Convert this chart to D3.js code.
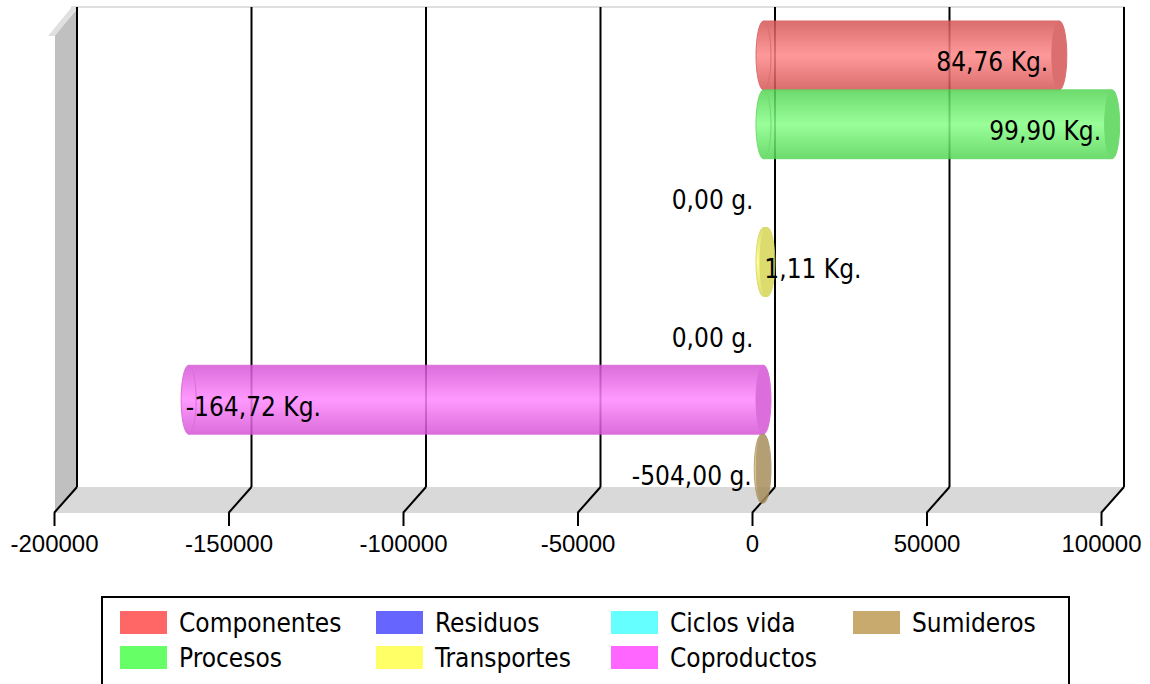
<!DOCTYPE html>
<html>
<head>
<meta charset="utf-8">
<script src="https://cdn.jsdelivr.net/npm/d3@7"></script>
<style>
  html, body { margin: 0; padding: 0; background: #fff; }
  svg { display: block; }
</style>
</head>
<body>
<svg id="chart" width="1150" height="684"></svg>
<script>
// ---- data ----
const series = ["Componentes", "Procesos", "Residuos", "Transportes", "Ciclos vida", "Coproductos", "Sumideros"];
const values = [84760, 99900, 0, 1110, 0, -164720, -504]; // grams
const valueLabels = ["84,76 Kg.", "99,90 Kg.", "0,00 g.", "1,11 Kg.", "0,00 g.", "-164,72 Kg.", "-504,00 g."];
const colors = ["#ff6666", "#66ff66", "#6666ff", "#ffff66", "#66ffff", "#ff66ff", "#c8aa6e"];
const tickValues = [-200000, -150000, -100000, -50000, 0, 50000, 100000];

// ---- geometry ----
const svg = d3.select("#chart");
const depthX = 23, depthY = 26;
const frontLeft = 54, frontRight = 1101;
const backTop = 7, backBottom = 487;
const frontBottom = backBottom + depthY;
const textFont = "'DejaVu Sans Condensed', 'DejaVu Sans', Verdana, sans-serif";

const x = d3.scaleLinear().domain([-200000, 100000]).range([frontLeft, frontRight]);
const xMid = v => x(v) + depthX / 2;
const y = d3.scaleBand().domain(series).range([21, 503]).padding(0);

const defs = svg.append("defs");

// floor
svg.append("polygon")
  .attr("points", [[frontLeft + depthX, backBottom], [frontRight + depthX, backBottom], [frontRight, frontBottom], [frontLeft, frontBottom]].map(p => p.join(",")).join(" "))
  .attr("fill", "#d9d9d9");
// left wall
svg.append("polygon")
  .attr("points", [[frontLeft + 1, backTop + 28], [frontLeft + depthX, backTop + 2], [frontLeft + depthX, backBottom], [frontLeft + 1, frontBottom]].map(p => p.join(",")).join(" "))
  .attr("fill", "#c0c0c0");
// wall top cap
svg.append("polygon")
  .attr("points", [[frontLeft - 6, backTop + 29], [frontLeft + 1, backTop + 29], [frontLeft + depthX, backTop + 1], [frontLeft + depthX - 6, backTop + 1]].map(p => p.join(",")).join(" "))
  .attr("fill", "#e0e0e0");
// back wall top edge
svg.append("line")
  .attr("x1", frontLeft + depthX - 6).attr("x2", frontRight + depthX + 1)
  .attr("y1", backTop).attr("y2", backTop)
  .attr("stroke", "#e0e0e0").attr("stroke-width", 2);

// gridlines (back wall) and floor slants
const grid = svg.append("g");
tickValues.forEach(t => {
  grid.append("line")
    .attr("x1", x(t) + depthX).attr("x2", x(t) + depthX)
    .attr("y1", backTop).attr("y2", backBottom)
    .attr("stroke", "#000").attr("stroke-width", 2);
  grid.append("line")
    .attr("x1", x(t) + depthX).attr("y1", backBottom)
    .attr("x2", x(t)).attr("y2", frontBottom)
    .attr("stroke", "#000").attr("stroke-width", 2);
});

// axis
const axis = d3.axisBottom(x).tickValues(tickValues).tickSize(13).tickPadding(9).tickFormat(d => String(d));
const axisG = svg.append("g").attr("transform", `translate(0,${frontBottom})`).call(axis);
axisG.select(".domain").remove();
axisG.selectAll(".tick line").attr("stroke", "#000").attr("stroke-width", 2);
axisG.selectAll(".tick text")
  .attr("font-family", "'Liberation Sans', Arial, sans-serif")
  .attr("font-size", 24).attr("fill", "#000");

// bars (cylinders)
const barsG = svg.append("g");
const rx = 7.5;
series.forEach((s, i) => {
  const v = values[i];
  if (v === 0) return;
  const base = d3.color(colors[i]);
  const dark = base.darker(0.5).formatHex();
  const light = base.brighter(0.8).formatHex();
  const gid = "grad" + i;
  const g = defs.append("linearGradient").attr("id", gid).attr("x1", 0).attr("y1", 0).attr("x2", 0).attr("y2", 1);
  g.append("stop").attr("offset", "0%").attr("stop-color", dark);
  g.append("stop").attr("offset", "50%").attr("stop-color", light);
  g.append("stop").attr("offset", "100%").attr("stop-color", dark);

  const xl = Math.min(xMid(0), xMid(v));
  const xr = Math.max(xMid(0), xMid(v));
  const top = y(s), bot = y(s) + y.bandwidth();
  const ry = y.bandwidth() / 2;
  const cy = top + ry;

  const bg = barsG.append("g").attr("opacity", 0.85);
  bg.append("path")
    .attr("d", `M${xl},${top} L${xr},${top} L${xr},${bot} L${xl},${bot} A${rx},${ry} 0 0 1 ${xl},${top} Z`)
    .attr("fill", `url(#${gid})`)
    .attr("stroke", dark).attr("stroke-width", 1);
  bg.append("path")
    .attr("d", `M${xl},${top} A${rx},${ry} 0 0 1 ${xl},${bot}`)
    .attr("fill", "none").attr("stroke", dark).attr("stroke-width", 1);
  bg.append("ellipse")
    .attr("cx", xr).attr("cy", cy).attr("rx", rx).attr("ry", ry)
    .attr("fill", dark).attr("stroke", dark).attr("stroke-width", 1);
});

// value labels
const labelG = svg.append("g")
  .attr("font-family", textFont).attr("font-stretch", "condensed")
  .attr("font-size", 26).attr("fill", "#000");
series.forEach((s, i) => {
  const v = values[i];
  const xl = Math.min(xMid(0), xMid(v));
  const xr = Math.max(xMid(0), xMid(v));
  const cy = y(s) + y.bandwidth() / 2;
  const t = labelG.append("text").attr("y", cy + 16).text(valueLabels[i]);
  const w = t.node().getComputedTextLength();
  if (v > 0) {
    if (xr - xl > w + 20) t.attr("x", xr - 11).attr("text-anchor", "end");
    else t.attr("x", xr - 3).attr("text-anchor", "start");
  } else if (v < 0 && xr - xl > w + 20) {
    t.attr("x", xl - 3).attr("text-anchor", "start");
  } else {
    t.attr("x", xl - 10).attr("text-anchor", "end");
  }
});

// legend
const legend = svg.append("g");
legend.append("rect")
  .attr("x", 102).attr("y", 597).attr("width", 967).attr("height", 110)
  .attr("fill", "#fff").attr("stroke", "#000").attr("stroke-width", 2);
const colX = [120, 376, 611, 853];
const rowY = [611, 646];
series.forEach((s, i) => {
  const c = Math.floor(i / 2), r = i % 2;
  legend.append("rect")
    .attr("x", colX[c]).attr("y", rowY[r]).attr("width", 47).attr("height", 23)
    .attr("fill", colors[i]);
  legend.append("text")
    .attr("x", colX[c] + 59).attr("y", rowY[r] + 21)
    .attr("font-family", textFont).attr("font-stretch", "condensed")
    .attr("font-size", 26).attr("fill", "#000")
    .text(s);
});
</script>
</body>
</html>
